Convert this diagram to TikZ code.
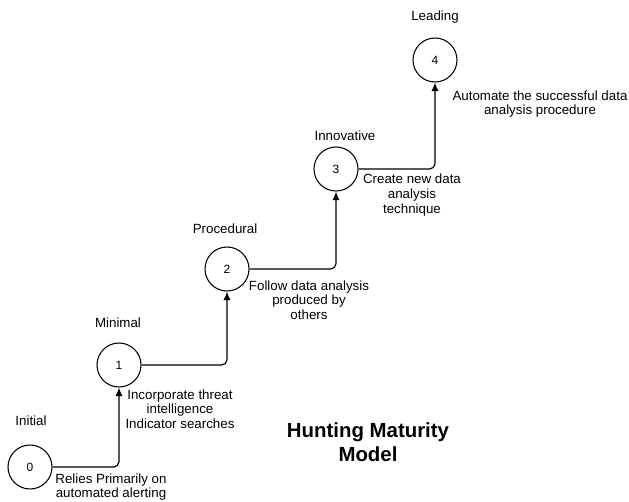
\documentclass[tikz,border=0pt]{standalone}
\usepackage{fontspec}
\setmainfont{Liberation Sans}
\usetikzlibrary{arrows.meta, positioning}

\begin{document}
\begin{tikzpicture}[x=0.75pt, y=-0.75pt,
  level/.style={draw, circle, line width=0.8pt, minimum size=33pt, inner sep=0pt, font=\fontsize{9}{11}\selectfont},
  stage/.style={font=\fontsize{10}{11}\selectfont},
  note/.style={align=center, font=\fontsize{10}{11}\selectfont},
  climb/.style={line width=0.9pt, rounded corners=4pt, -{Latex[length=6.5pt, width=5.5pt]}}]
  \useasboundingbox (0,0) rectangle (629,501);

  % Maturity levels
  \node[level] (l0) at (30,467) {0};
  \node[level] (l1) at (119,365) {1};
  \node[level] (l2) at (227,269) {2};
  \node[level] (l3) at (336,169) {3};
  \node[level] (l4) at (435,60) {4};

  % Level names
  \node[stage] (initial) at (31,421) {Initial};
  \node[stage] (minimal) at (118,323) {Minimal};
  \node[stage] (procedural) at (225,229) {Procedural};
  \node[stage] (innovative) at (345,136) {Innovative};
  \node[stage] (leading) at (435,17) {Leading};

  % Descriptions
  \node[note] (d0) at (111,487) {Relies Primarily on\\automated alerting};
  \node[note] (d1) at (180,409) {Incorporate threat\\intelligence\\Indicator searches};
  \node[note] (d2) at (309,300) {Follow data analysis\\produced by\\others};
  \node[note] (d3) at (412,195) {Create new data\\analysis\\technique};
  \node[note] (d4) at (540,104) {Automate the successful data\\analysis procedure};

  % Title
  \node[align=center, font=\fontsize{15.3}{18}\selectfont\bfseries] (title) at (368,442) {Hunting Maturity\\Model};

  % Steps
  \draw[climb] (l0.east) -| (l1.south);
  \draw[climb] (l1.east) -| (l2.south);
  \draw[climb] (l2.east) -| (l3.south);
  \draw[climb] (l3.east) -| (l4.south);
\end{tikzpicture}
\end{document}
